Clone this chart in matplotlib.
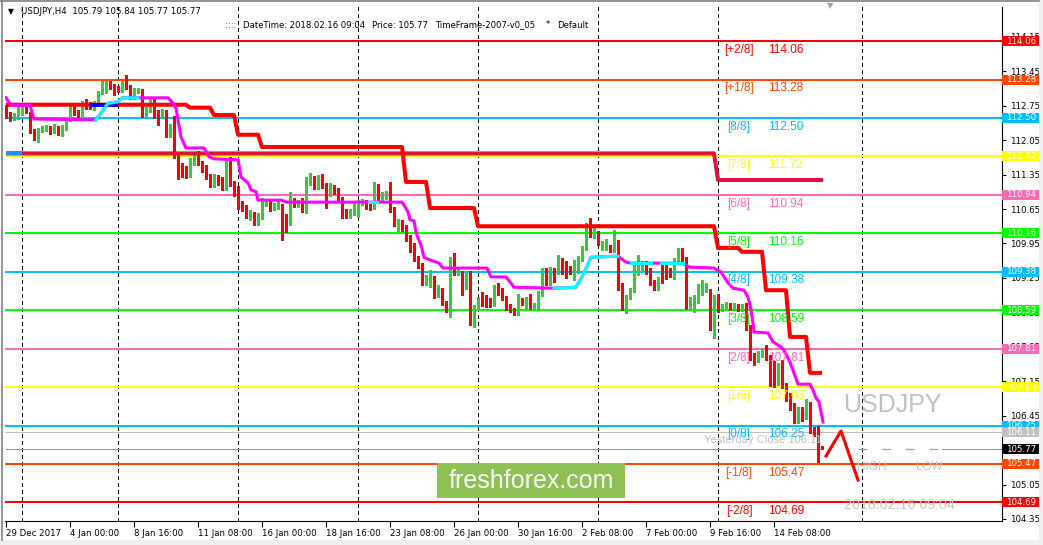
import matplotlib
matplotlib.use("Agg")
import matplotlib.pyplot as plt
import numpy as np
from matplotlib.patches import Rectangle
from matplotlib.transforms import blended_transform_factory

W, H = 1043, 545
plt.rcParams["font.family"] = ["DejaVu Sans"]

# ---- USDJPY H4 bars, oldest first (rows of 16 bars) ----
opens = [
    112.69, 112.58, 112.52, 112.52, 112.60, 112.69, 112.52, 112.24, 112.09, 112.26, 112.30, 112.30, 112.22, 112.30, 112.20, 112.28,
    112.50, 112.71, 112.62, 112.52, 112.83, 112.79, 112.73, 112.77, 113.01, 113.15, 113.19, 113.15, 113.11, 113.07, 113.21, 113.13,
    112.93, 113.04, 113.07, 112.60, 112.67, 112.83, 112.62, 112.54, 112.64, 112.16, 112.50, 111.73, 111.54, 111.46, 111.40, 111.58,
    111.75, 111.58, 111.50, 111.32, 111.20, 111.30, 111.24, 111.06, 111.65, 111.18, 111.08, 110.77, 110.69, 110.52, 110.55, 110.39,
    110.49, 110.76, 110.79, 110.68, 110.69, 110.71, 110.49, 110.37, 110.83, 110.76, 110.83, 110.75, 111.26, 111.28, 111.10, 111.32,
    111.14, 110.97, 111.10, 111.04, 110.85, 110.61, 110.53, 110.57, 110.53, 110.78, 110.79, 110.77, 110.69, 111.12, 110.87, 110.89,
    110.97, 110.65, 110.35, 110.39, 110.28, 110.08, 109.92, 109.65, 109.51, 109.17, 109.18, 109.25, 108.90, 109.00, 108.74, 108.64,
    109.49, 109.35, 109.35, 109.06, 109.35, 108.43, 108.66, 108.82, 108.78, 108.78, 108.72, 109.08, 108.94, 108.84, 108.68, 108.60,
    108.54, 108.80, 108.72, 108.80, 108.66, 108.66, 108.92, 109.35, 109.15, 109.37, 109.37, 109.61, 109.55, 109.45, 109.39, 109.39,
    109.63, 109.86, 110.28, 110.12, 110.16, 109.86, 109.86, 109.88, 109.82, 109.96, 109.10, 108.64, 108.86, 109.00, 109.35, 109.45,
    109.53, 109.41, 109.15, 109.04, 109.49, 109.47, 109.41, 109.27, 109.61, 109.81, 109.63, 108.68, 108.72, 108.80, 108.94, 109.00,
    108.94, 108.39, 108.84, 108.62, 108.66, 108.70, 108.64, 108.68, 108.62, 108.68, 108.25, 107.68, 107.58, 107.68, 107.78, 107.64,
    107.44, 107.17, 107.52, 107.07, 106.87, 106.67, 106.36, 106.58, 106.42, 106.67, 106.16, 106.16, 105.79,
]
highs = [
    112.76, 112.62, 112.60, 112.72, 112.75, 112.73, 112.62, 112.28, 112.30, 112.34, 112.36, 112.34, 112.38, 112.34, 112.36, 112.50,
    112.75, 112.75, 112.66, 112.85, 112.89, 112.83, 112.85, 113.05, 113.25, 113.25, 113.25, 113.19, 113.15, 113.25, 113.37, 113.17,
    113.11, 113.11, 113.09, 112.73, 112.91, 112.89, 112.66, 112.69, 112.67, 112.38, 112.54, 111.77, 111.58, 111.52, 111.69, 111.77,
    111.83, 111.62, 111.54, 111.36, 111.36, 111.34, 111.30, 111.69, 111.71, 111.22, 111.12, 110.81, 110.73, 110.63, 110.59, 110.57,
    110.87, 110.83, 110.83, 110.77, 110.85, 110.75, 110.55, 110.99, 110.87, 110.83, 110.87, 111.30, 111.38, 111.32, 111.34, 111.36,
    111.18, 111.18, 111.14, 111.08, 110.89, 110.65, 110.65, 110.79, 110.83, 110.85, 110.83, 110.81, 111.20, 111.16, 111.00, 111.02,
    111.20, 110.69, 110.45, 110.43, 110.32, 110.12, 109.96, 109.69, 109.55, 109.31, 109.41, 109.29, 109.10, 109.04, 108.78, 109.67,
    109.75, 109.45, 109.39, 109.39, 109.39, 108.70, 108.86, 108.96, 108.90, 108.84, 109.10, 109.14, 109.04, 108.88, 108.72, 108.64,
    108.92, 108.84, 108.86, 108.92, 108.74, 108.98, 109.45, 109.45, 109.47, 109.45, 109.71, 109.65, 109.59, 109.49, 109.61, 109.69,
    109.90, 110.36, 110.46, 110.30, 110.20, 110.00, 110.04, 109.92, 110.22, 110.02, 109.14, 108.90, 109.04, 109.51, 109.71, 109.59,
    109.59, 109.45, 109.20, 109.27, 109.55, 109.51, 109.45, 109.65, 109.86, 109.86, 109.67, 108.86, 108.90, 109.12, 109.20, 109.14,
    109.02, 108.90, 108.92, 108.72, 108.76, 108.74, 108.74, 108.72, 108.72, 108.74, 108.29, 107.72, 107.76, 107.82, 107.88, 107.68,
    107.56, 107.52, 107.58, 107.11, 106.91, 106.71, 106.62, 106.62, 106.79, 106.73, 106.22, 106.24, 105.84,
]
lows = [
    112.50, 112.44, 112.46, 112.48, 112.56, 112.60, 112.20, 112.05, 112.02, 112.22, 112.24, 112.18, 112.20, 112.16, 112.14, 112.26,
    112.44, 112.56, 112.48, 112.48, 112.69, 112.69, 112.67, 112.75, 112.99, 113.01, 113.09, 112.97, 113.03, 113.03, 113.09, 112.89,
    112.89, 113.01, 112.52, 112.52, 112.62, 112.50, 112.36, 112.50, 112.12, 112.12, 111.69, 111.26, 111.30, 111.28, 111.30, 111.54,
    111.54, 111.40, 111.26, 111.10, 111.10, 111.14, 111.04, 111.04, 111.12, 110.91, 110.65, 110.61, 110.47, 110.43, 110.33, 110.33,
    110.45, 110.71, 110.61, 110.63, 110.65, 110.02, 110.18, 110.33, 110.69, 110.69, 110.59, 110.57, 111.14, 111.06, 111.06, 111.08,
    110.67, 110.91, 110.95, 110.79, 110.47, 110.47, 110.47, 110.53, 110.49, 110.73, 110.65, 110.63, 110.65, 110.83, 110.83, 110.85,
    110.59, 110.30, 110.20, 110.20, 110.00, 109.77, 109.59, 109.45, 109.10, 109.10, 109.06, 108.84, 108.86, 108.70, 108.55, 108.45,
    109.31, 109.31, 108.90, 109.02, 108.29, 108.25, 108.60, 108.68, 108.66, 108.66, 108.68, 108.90, 108.80, 108.60, 108.55, 108.49,
    108.49, 108.70, 108.64, 108.62, 108.60, 108.62, 108.88, 109.10, 109.10, 109.16, 109.33, 109.33, 109.25, 109.33, 109.20, 109.35,
    109.59, 109.82, 110.08, 110.06, 109.92, 109.82, 109.82, 109.77, 109.77, 109.00, 108.60, 108.53, 108.82, 108.96, 109.31, 109.41,
    109.33, 109.10, 109.00, 109.00, 109.14, 109.22, 109.27, 109.22, 109.57, 109.57, 108.62, 108.60, 108.55, 108.74, 108.90, 108.96,
    108.19, 108.02, 108.55, 108.58, 108.62, 108.60, 108.60, 108.58, 108.58, 108.19, 107.58, 107.48, 107.54, 107.64, 107.58, 107.05,
    107.03, 107.07, 107.01, 106.75, 106.56, 106.30, 106.30, 106.34, 106.38, 106.10, 106.04, 105.51, 105.77,
]
closes = [
    112.54, 112.52, 112.56, 112.69, 112.71, 112.65, 112.22, 112.09, 112.28, 112.30, 112.31, 112.22, 112.28, 112.20, 112.32, 112.42,
    112.71, 112.60, 112.52, 112.81, 112.73, 112.73, 112.81, 113.01, 113.21, 113.17, 113.13, 113.01, 113.09, 113.21, 113.13, 112.93,
    113.05, 113.06, 112.60, 112.69, 112.87, 112.58, 112.56, 112.64, 112.16, 112.34, 111.73, 111.50, 111.44, 111.38, 111.58, 111.73,
    111.58, 111.50, 111.30, 111.22, 111.30, 111.20, 111.08, 111.58, 111.18, 110.95, 110.69, 110.69, 110.53, 110.54, 110.39, 110.53,
    110.77, 110.78, 110.65, 110.70, 110.77, 110.43, 110.39, 110.89, 110.73, 110.78, 110.73, 111.28, 111.28, 111.10, 111.30, 111.12,
    110.93, 111.10, 111.00, 110.83, 110.61, 110.53, 110.59, 110.73, 110.79, 110.80, 110.69, 110.69, 111.10, 110.87, 110.97, 110.97,
    110.63, 110.35, 110.41, 110.26, 110.06, 109.96, 109.65, 109.51, 109.17, 109.25, 109.23, 108.90, 109.00, 108.74, 108.64, 109.35,
    109.35, 109.37, 109.06, 109.35, 108.43, 108.64, 108.82, 108.72, 108.72, 108.72, 109.06, 108.94, 108.84, 108.66, 108.62, 108.54,
    108.82, 108.74, 108.76, 108.66, 108.70, 108.94, 109.35, 109.15, 109.41, 109.22, 109.63, 109.37, 109.37, 109.37, 109.57, 109.65,
    109.86, 110.28, 110.12, 110.26, 109.96, 109.96, 109.96, 109.82, 109.96, 109.04, 108.64, 108.86, 109.00, 109.47, 109.55, 109.51,
    109.37, 109.15, 109.04, 109.23, 109.20, 109.27, 109.31, 109.61, 109.81, 109.61, 108.66, 108.80, 108.82, 109.06, 109.08, 109.06,
    108.39, 108.80, 108.60, 108.66, 108.70, 108.64, 108.68, 108.64, 108.66, 108.23, 107.64, 107.58, 107.72, 107.78, 107.64, 107.13,
    107.13, 107.48, 107.07, 106.83, 106.67, 106.36, 106.56, 106.46, 106.67, 106.16, 106.10, 105.79, 105.77,
]

time_ticks = [0, 16, 32, 48, 64, 80, 96, 112, 128, 144, 160, 176, 192]
time_labels = ["29 Dec 2017", "4 Jan 00:00", "8 Jan 16:00", "11 Jan 08:00", "16 Jan 00:00",
               "18 Jan 16:00", "23 Jan 08:00", "26 Jan 00:00", "30 Jan 16:00", "2 Feb 08:00",
               "7 Feb 00:00", "9 Feb 16:00", "14 Feb 08:00"]
week_separators = [4, 28, 58, 88, 118, 148, 178, 214]
price_ticks = [104.35, 105.05, 105.75, 106.45, 107.15, 107.85, 108.55, 109.25,
               109.95, 110.65, 111.35, 112.05, 112.75, 113.45, 114.15]

# Murrey math levels
mm_names = ["[+2/8]", "[+1/8]", "[8/8]", "[7/8]", "[6/8]", "[5/8]", "[4/8]",
            "[3/8]", "[2/8]", "[1/8]", "[0/8]", "[-1/8]", "[-2/8]"]
mm_levels = [114.06, 113.28, 112.50, 111.72, 110.94, 110.16, 109.38,
             108.59, 107.81, 107.03, 106.25, 105.47, 104.69]
mm_colors = ["#FF0000", "#FF4500", "#00BFFF", "#FFFF00", "#FF69B4", "#00FF00", "#00BFFF",
             "#00FF00", "#FF69B4", "#FFFF00", "#00BFFF", "#FF4500", "#FF0000"]

# trailing step line (red), blue while flat at the start
stop_x = [0, 45, 46, 51, 52, 57, 58, 63, 64, 99, 100, 105, 106, 117, 118, 177,
          178, 183, 184, 189, 190, 195, 196, 200, 201, 204]
stop_y = [112.77, 112.77, 112.71, 112.71, 112.56, 112.56, 112.16, 112.16, 111.91, 111.91,
          111.20, 111.20, 110.67, 110.67, 110.30, 110.30, 109.86, 109.86, 109.78, 109.78,
          109.00, 109.00, 108.05, 108.05, 107.32, 107.32]
stop_blue_span = (21, 28)

# weekly level (crimson)
week_x = [0, 177, 178, 204.25]
week_y = [111.78, 111.78, 111.24, 111.24]
week_blue_span = (0, 4)

# moving average, magenta / cyan
ma_x = [0, 1.25, 6, 7, 22.5, 25.5, 28, 29, 33, 40.5, 41.75, 42.5, 43, 43.75, 45, 49.5,
        50.75, 52, 58, 58.75, 60.5, 61.25, 62.5, 63, 69, 70, 90.75, 92.75, 99, 99.5, 100.5,
        101, 102, 102.5, 103, 103.75, 104.5, 105.5, 108.25, 109.25, 120.25, 121.25, 125, 127,
        137, 142.5, 144.25, 146.25, 153, 155, 156.25, 161.25, 163.75, 169.25, 170.75, 177,
        178.75, 180.5, 181.75, 184.5, 185.5, 186.25, 186.75, 187, 190.5, 191.75, 193.75,
        194.5, 195.75, 197, 198, 201, 201.75, 202.5, 203.25, 204.25]
ma_y = [112.91, 112.76, 112.76, 112.48, 112.46, 112.80, 112.83, 112.91, 112.91, 112.91,
        112.80, 112.70, 112.46, 112.11, 111.89, 111.89, 111.71, 111.67, 111.65, 111.30,
        111.18, 111.04, 111.00, 110.83, 110.83, 110.79, 110.79, 110.79, 110.79, 110.73,
        110.59, 110.43, 110.41, 110.18, 110.06, 109.92, 109.67, 109.63, 109.55, 109.45,
        109.45, 109.27, 109.27, 109.06, 109.04, 109.06, 109.31, 109.67, 109.69, 109.57,
        109.55, 109.55, 109.55, 109.55, 109.47, 109.45, 109.37, 109.15, 109.04, 109.00,
        108.86, 108.60, 108.33, 108.15, 108.13, 107.95, 107.85, 107.78, 107.58, 107.32,
        107.09, 107.09, 106.97, 106.81, 106.73, 106.32]
ma_cyan_spans = [(22.5, 33), (90.75, 92.75), (137, 153), (156.25, 161.25), (163.75, 169.25)]

# hand-drawn projection
zig_x = [205, 208.75, 213]
zig_y = [105.63, 106.14, 105.14]

yesterday_close = 106.11
last_price = 105.77

GREEN = "#32CD32"
RED = "#FF0000"


def px(x, y):
    return x / W, 1 - y / H


fig = plt.figure(figsize=(W / 100, H / 100), dpi=100)
fig.patch.set_facecolor("white")
ax = fig.add_axes([5 / W, 24 / H, 997 / W, 514 / H])
ax.set_xlim(-0.25, 249.0)
ax.set_ylim(104.309, 114.756)
ax.set_facecolor("white")

for s in week_separators:
    ax.axvline(s, color="black", lw=0.75, ls=(0, (3.2, 3.2)), zorder=1, antialiased=False)

for lvl, colr in zip(mm_levels, mm_colors):
    ax.axhline(lvl, color=colr, lw=1.25, zorder=2, antialiased=False)
ax.axhline(yesterday_close, color="#C0C0C0", lw=0.6, zorder=2, antialiased=False)
ax.plot([0, 204], [last_price, last_price], color="#909090", lw=0.6, zorder=2, antialiased=False)
ax.plot([213, 234], [last_price, last_price], color="#A0A0A0", lw=0.9, ls=(0, (7, 12)), zorder=2)
ax.plot([234, 249], [last_price, last_price], color="#909090", lw=0.6, zorder=2, antialiased=False)

# candles
o = np.array(opens)
h = np.array(highs)
l = np.array(lows)
c = np.array(closes)
xs = np.arange(len(c))
cols = np.where(c >= o, GREEN, RED)
ax.vlines(xs, l, h, colors=cols, lw=0.8, zorder=3, antialiased=False)
ax.bar(xs, np.maximum(np.abs(c - o), 0.025), bottom=np.minimum(o, c), width=0.75,
       color=cols, lw=0, zorder=3, antialiased=False)

# indicators
ax.plot(week_x, week_y, color="#DC143C", lw=2.9, zorder=4, solid_capstyle="butt")
bx = np.linspace(*week_blue_span, 20)
ax.plot(bx, np.interp(bx, week_x, week_y), color="#1E90FF", lw=2.9, zorder=4, solid_capstyle="butt")

ax.plot(stop_x, stop_y, color="#FF0000", lw=2.9, zorder=5, solid_capstyle="butt")
bx = np.linspace(*stop_blue_span, 20)
ax.plot(bx, np.interp(bx, stop_x, stop_y), color="#0000FF", lw=2.9, zorder=5, solid_capstyle="butt")

ax.plot(ma_x, ma_y, color="#FF00FF", lw=2.2, zorder=6)
for a, b in ma_cyan_spans:
    bx = np.linspace(a, b, 60)
    ax.plot(bx, np.interp(bx, ma_x, ma_y), color="#00FFFF", lw=2.2, zorder=6)

ax.plot(zig_x, zig_y, color="#FF0000", lw=2.2, zorder=6)

# murrey labels
for name, lvl, colr in zip(mm_names, mm_levels, mm_colors):
    ax.annotate(name, xy=(183.25, lvl), xytext=(0, -2), textcoords="offset points",
                ha="center", va="top", color=colr, fontsize=8.5, family="Liberation Sans", zorder=7)
    ax.annotate(f"{lvl:.2f}", xy=(190.5, lvl), xytext=(0, -2), textcoords="offset points",
                ha="left", va="top", color=colr, fontsize=8.5, family="Liberation Sans", zorder=7)

ax.annotate(f"Yesterday Close {yesterday_close:.2f}", xy=(204, yesterday_close), xytext=(0, -2),
            textcoords="offset points", ha="right", va="top", color="#C0C0C0",
            fontsize=8, family="Liberation Sans", zorder=7)

# axes styling
for side in ("top", "left"):
    ax.spines[side].set_visible(False)
for side in ("right", "bottom"):
    ax.spines[side].set_linewidth(0.8)
    ax.spines[side].set_color("black")

ax.set_xticks(time_ticks)
ax.set_xticklabels(time_labels)
for t in ax.get_xticklabels():
    t.set_ha("left")
ax.tick_params(axis="x", length=4, width=0.8, pad=2, labelsize=6.2, direction="out")

ax.yaxis.tick_right()
ax.set_yticks(price_ticks)
ax.set_yticklabels([f"{p:.2f}" for p in price_ticks])
ax.tick_params(axis="y", length=3, width=0.8, pad=2.5, labelsize=6.2, direction="out")

# price boxes on the right scale
tr = blended_transform_factory(ax.transAxes, ax.transData)
bw = 36.5 / 997
bh = 10 / 514 * (114.756 - 104.309)
box_levels = mm_levels + [yesterday_close, last_price]
box_colors = mm_colors + ["#C0C0C0", "#000000"]
for lvl, colr in zip(box_levels, box_colors):
    ax.add_patch(Rectangle((1.0005, lvl - bh / 2), bw, bh, transform=tr, facecolor=colr,
                           edgecolor="none", clip_on=False, zorder=10))
    ax.text(1.0005 + bw / 2, lvl, f"{lvl:.2f}", transform=tr, ha="center", va="center",
            color="white", fontsize=6.2, clip_on=False, zorder=11)

# header texts
fig.text(*px(8, 12), "\u25bc", fontsize=5.5, va="center", ha="left")
fig.text(*px(21, 12), "USDJPY,H4  105.79 105.84 105.77 105.77", fontsize=6.2, va="center")
fig.text(*px(225, 25), "::::", fontsize=6.2, va="center", color="#800080")
fig.text(*px(243, 25), "DateTime: 2018.02.16 09:04", fontsize=6.1, va="center")
fig.text(*px(372, 25), "Price: 105.77", fontsize=6.1, va="center")
fig.text(*px(435, 25), "TimeFrame-2007-v0_05", fontsize=6.1, va="center")
fig.text(*px(546, 25), "*", fontsize=6.1, va="center")
fig.text(*px(557, 25), "Default", fontsize=6.1, va="center")
fig.text(*px(830, 6), "\u25bc", fontsize=6, va="center", ha="center", color="#A0A0A0")

# watermark / chart objects
fig.text(*px(892, 405), "USDJPY", fontsize=18, family="Liberation Sans", color="#C0C0C0",
         ha="center", va="center")
fig.text(*px(857, 467), "HIGH", fontsize=8.5, family="Liberation Sans", color="#C8C8C8", va="center")
fig.text(*px(916, 467), "LOW", fontsize=8.5, family="Liberation Sans", color="#C8C8C8", va="center")
fig.text(*px(899, 505), "2018.02.16 09:04", fontsize=10.3, family="Liberation Sans",
         color="#C8C8C8", ha="center", va="center")

x0, y0 = px(437, 498)
fig.patches.append(Rectangle((x0, y0), 188 / W, 35 / H, transform=fig.transFigure,
                             facecolor="#8DC153", edgecolor="none", zorder=20))
fig.text(*px(531, 481), "freshforex.com", fontsize=18, family="Liberation Sans", color="white",
         ha="center", va="center", zorder=21)

# window frame
fig.patches.append(Rectangle((0, 0), 1, 5 / H, transform=fig.transFigure,
                             facecolor="#F0F0F0", edgecolor="none", zorder=0))
fig.patches.append(Rectangle((1 - 4 / W, 0), 4 / W, 1, transform=fig.transFigure,
                             facecolor="#F0F0F0", edgecolor="none", zorder=0))
fig.add_artist(plt.Line2D([1.5 / W, 1.5 / W], [5 / H, 1], transform=fig.transFigure,
                          color="#808080", lw=1.2))
fig.add_artist(plt.Line2D([0, 1 - 4 / W], [1 - 1 / H, 1 - 1 / H], transform=fig.transFigure,
                          color="#808080", lw=1.2))

fig.savefig("out.png", dpi=100)
